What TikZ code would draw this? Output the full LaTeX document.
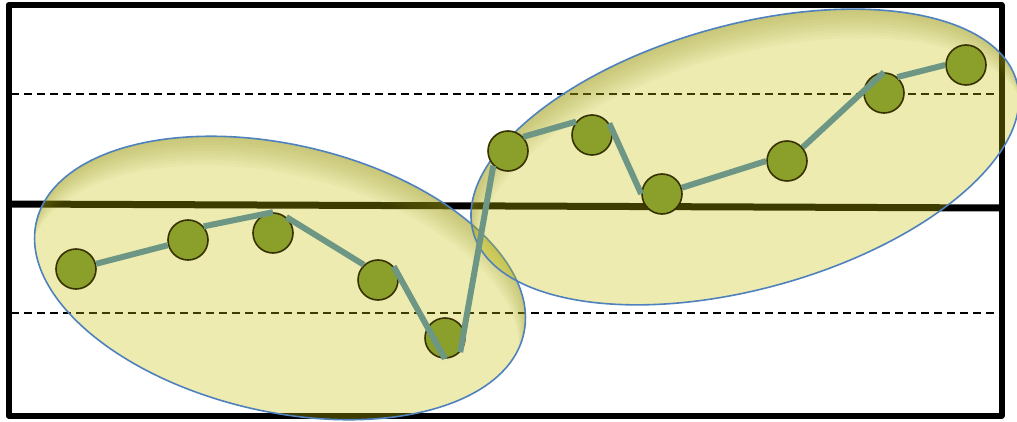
\documentclass[tikz,border=0pt]{standalone}
\definecolor{framecol}{RGB}{0,0,0}
\definecolor{blobfill}{RGB}{196,192,0}
\definecolor{blobedge}{RGB}{79,129,189}
\definecolor{blobshade}{RGB}{140,140,30}
\definecolor{dotfill}{RGB}{138,160,42}
\definecolor{dotedge}{RGB}{55,48,0}
\definecolor{linkcol}{RGB}{110,150,132}
\tikzset{
  framebox/.style={draw=framecol, line width=6pt, line join=round},
  midline/.style={draw=black, line width=7pt},
  limitline/.style={draw=black, line width=2pt, dash pattern=on 8pt off 5pt},
  blob/.style={fill=blobfill, fill opacity=0.31},
  blobrim/.style={draw=blobedge, line width=1.6pt},
  rimshade/.style={fill=blobshade, fill opacity=0.045, even odd rule},
  dot/.style={circle, minimum size=40pt, inner sep=0pt, fill=dotfill, draw=dotedge, line width=1.6pt},
  link/.style={draw=linkcol, line width=6pt}
}
\begin{document}
\begin{tikzpicture}[x=1pt,y=1pt]
\useasboundingbox (0,0) rectangle (1017,-422);
% frame and reference lines
\draw[framebox] (8.5,-5) rectangle (1001.5,-415.5);
\coordinate (ml) at (8.5,-204);
\coordinate (mr) at (1001.5,-208);
\draw[midline] (ml) -- (mr);
\coordinate (ul) at (11,-94.5);
\coordinate (ur) at (999,-94.5);
\coordinate (ll) at (11,-313);
\coordinate (lr) at (999,-313);
\draw[limitline] (ul) -- (ur);
\draw[limitline] (ll) -- (lr);
% group 1
\begin{scope}[rotate around={-13:(280,-278)}]
  \fill[blob] (280,-278) ellipse [x radius=250, y radius=133.5];
  \begin{scope}
    \clip (280,-278) ellipse [x radius=250, y radius=133.5];
    \foreach \s in {3,6,...,30} {
      \fill[rimshade] (280,-278) ellipse [x radius=250, y radius=133.5]
                      (280,-278-\s) ellipse [x radius=250, y radius=133.5];
    }
  \end{scope}
  \draw[blobrim] (280,-278) ellipse [x radius=250, y radius=133.5];
\end{scope}
% group 2
\begin{scope}[rotate around={15.5:(745,-157)}]
  \fill[blob] (745,-157) ellipse [x radius=282, y radius=132];
  \begin{scope}
    \clip (745,-157) ellipse [x radius=282, y radius=132];
    \foreach \s in {3,6,...,30} {
      \fill[rimshade] (745,-157) ellipse [x radius=282, y radius=132]
                      (745,-157-\s) ellipse [x radius=282, y radius=132];
    }
  \end{scope}
  \draw[blobrim] (745,-157) ellipse [x radius=282, y radius=132];
\end{scope}
% points
\node[dot] (p1) at (76,-269) {};
\node[dot] (p2) at (188,-240) {};
\node[dot] (p3) at (273,-233) {};
\node[dot] (p4) at (378,-280) {};
\node[dot] (p5) at (445,-338) {};
\node[dot] (p6) at (508,-151) {};
\node[dot] (p7) at (592,-135) {};
\node[dot] (p8) at (662,-194) {};
\node[dot] (p9) at (787,-161) {};
\node[dot] (p10) at (884,-93) {};
\node[dot] (p11) at (966,-65) {};
% connectors
\draw[link] (p1) -- (p2);
\draw[link] (p2.41) -- (p3.north);
\draw[link] (p3.50) -- (p4.133);
\draw[link] (p4.41) -- (p5.south);
\draw[link] (p5.-43) -- (p6.225);
\draw[link] (p6.43) -- (p7.140);
\draw[link] (p7.34) -- (p8.west);
\draw[link] (p8) -- (p9.west);
\draw[link] (p9.41) -- (p10.north);
\draw[link] (p10.50) -- (p11.west);
\end{tikzpicture}
\end{document}
